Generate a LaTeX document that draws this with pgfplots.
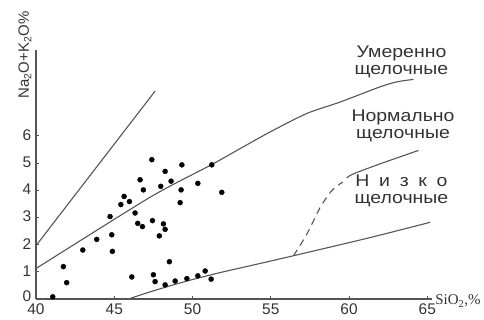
\documentclass[border=0pt]{standalone}
\usepackage{pgfplots}
\pgfplotsset{compat=1.18}
\usepackage{fontspec}
\setmainfont{Liberation Sans}
\newfontfamily\serifrm{Liberation Serif}
\definecolor{ln}{HTML}{555555}
\definecolor{tx}{HTML}{333333}
\begin{document}
\begin{tikzpicture}
\path[use as bounding box] (-36bp,-21bp) rectangle (448bp,299bp);
\begin{axis}[
  at={(0,0)}, anchor=south west,
  scale only axis, width=396bp, height=249bp,
  xmin=40, xmax=65.3, ymin=0, ymax=9.15,
  axis x line*=bottom, axis y line*=left,
  axis line style={-, draw=ln, line width=1.1bp},
  xtick={40,45,...,65}, ytick={0,...,6},
  yticklabels={\raisebox{2bp}[\height][-2bp]{0},1,2,3,4,5,6},
  major tick length=3bp,
  tick style={draw=ln, line width=0.8bp},
  tick label style={font=\fontsize{15.5}{15.5}\selectfont, text=tx},
  /pgf/number format/assume math mode=true,
  xticklabel style={inner sep=0pt, yshift=-4.5bp},
  yticklabel style={inner sep=0pt, xshift=-4.5bp, yshift=0.8bp},
  clip=false,
]
% boundary lines
\addplot[ln, line width=1.1bp] coordinates {(40,1.96) (47.61,7.64)};
\addplot[ln, line width=1.1bp, smooth, tension=0.4] coordinates {(40,1.12) (47.29,3.74) (51.13,4.91) (52.93,5.49) (54.96,6.14) (57.31,6.82) (59.44,7.24) (62.0,7.80) (63.06,7.98) (64.12,8.07)};
\addplot[ln, line width=1.1bp, dash pattern=on 7bp off 5bp, smooth] coordinates {(56.45,1.59) (57.31,2.39) (58.16,3.37) (58.91,3.99) (59.6,4.3)};
\addplot[ln, line width=1.1bp, smooth] coordinates {(59.85,4.45) (60.29,4.6) (62.0,4.97) (64.44,5.46)};
\addplot[ln, line width=1.1bp, smooth] coordinates {(45.9,0) (47.5,0.30) (49.64,0.66) (51.76,0.97) (53.89,1.25) (56.45,1.59) (61.36,2.26) (65.19,2.82)};
% samples
\addplot[only marks, mark=*, mark size=2.5bp, black] coordinates {
(41.07,0.08) (41.96,0.60) (41.75,1.19) (42.99,1.80) (43.88,2.19) (44.84,2.36) (44.88,1.75) (44.73,3.03)
(45.42,3.47) (45.63,3.77) (45.97,3.58) (47.40,5.12) (49.32,4.93) (51.23,4.93) (48.25,4.69) (46.65,4.38)
(48.63,4.33) (47.97,4.14) (46.86,4.01) (49.27,4.01) (50.34,4.25) (51.87,3.92) (49.21,3.54) (46.33,3.16)
(47.44,2.88) (46.50,2.78) (46.80,2.66) (48.14,2.76) (48.25,2.56) (47.88,2.32) (48.52,1.37) (46.12,0.81)
(47.50,0.89) (47.61,0.64) (48.25,0.52) (48.89,0.66) (49.64,0.75) (50.34,0.85) (50.81,1.03) (51.19,0.73)
};
\node[align=center, text=tx, xscale=1.15, font=\fontsize{17}{17}\selectfont] at (axis cs:63.35,8.7) {Умеренно\\щелочные};
\node[align=center, text=tx, xscale=1.15, font=\fontsize{17}{17}\selectfont] at (axis cs:63.45,6.36) {Нормально\\щелочные};
\node[align=center, text=tx, xscale=1.15, font=\fontsize{17}{17}\selectfont] at (axis cs:63.35,3.97) {Н\hspace{0.5em}и\hspace{0.5em}з\hspace{0.5em}к\hspace{0.5em}о\\щелочные};
\node[rotate=90, text=tx, font=\fontsize{15}{15}\selectfont] at (rel axis cs:-0.028,0.98) {Na\textsubscript{2}O+K\textsubscript{2}O\%};
\node[anchor=base west, inner sep=0pt, text=tx, font=\serifrm\fontsize{15}{15}\selectfont] at (axis cs:65.5,-0.22) {SiO\textsubscript{2},\%};
\end{axis}
\end{tikzpicture}
\end{document}
